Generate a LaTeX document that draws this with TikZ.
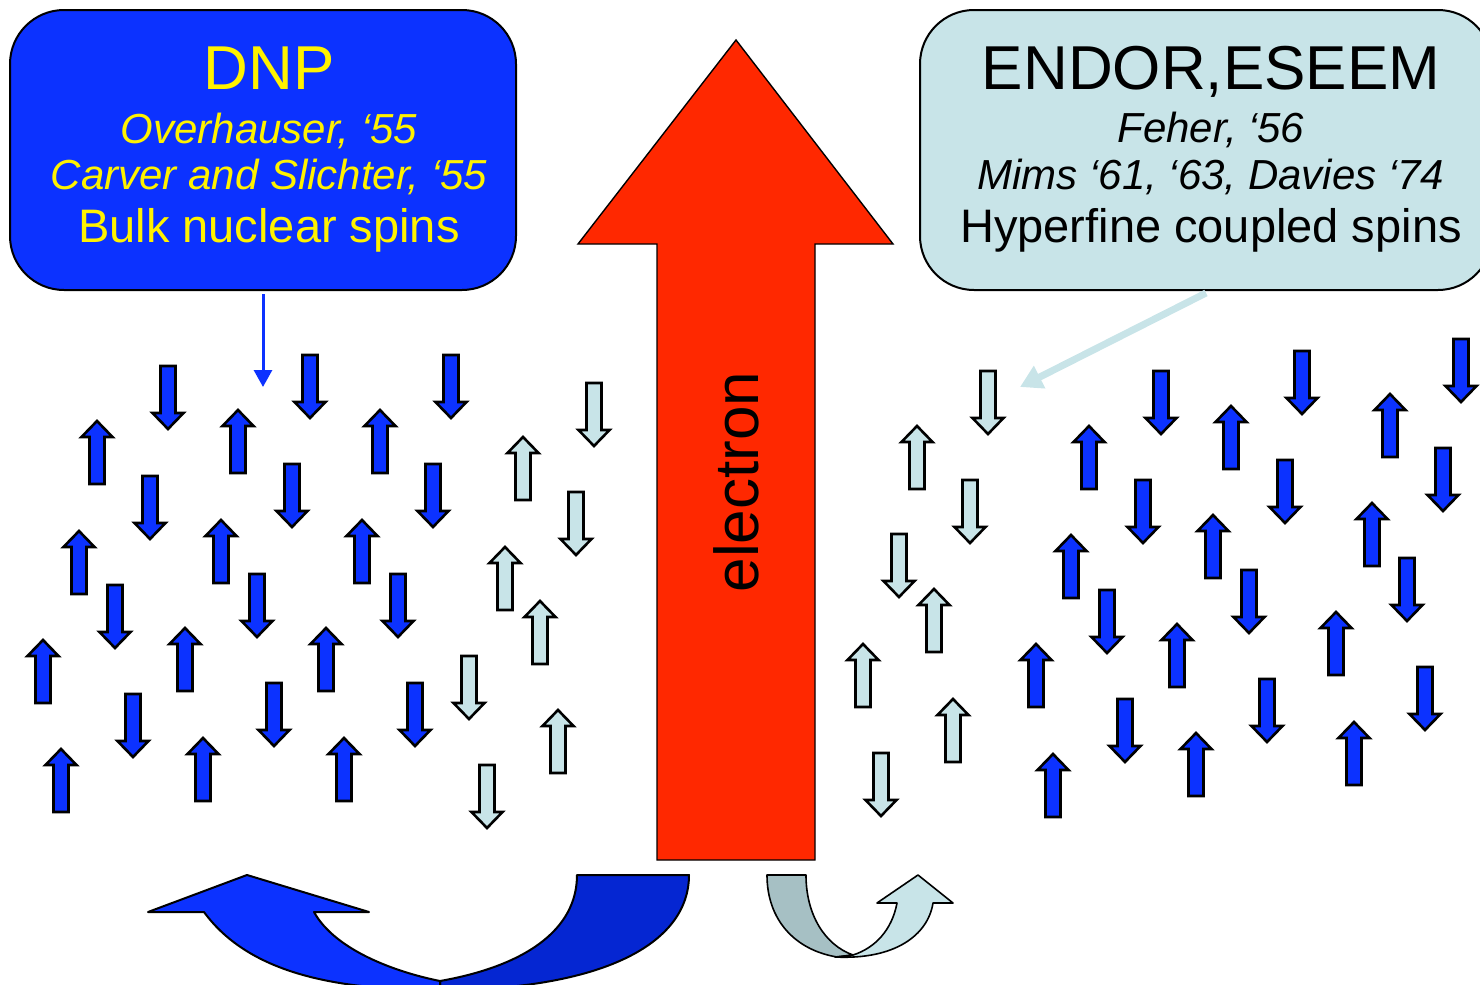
\documentclass[tikz,border=0pt]{standalone}
\usepackage{fontspec}
\setmainfont{Liberation Sans}
\usetikzlibrary{arrows.meta}

\definecolor{spinblue}{RGB}{12,50,255}
\definecolor{spincyan}{RGB}{200,228,232}
\definecolor{backblue}{RGB}{5,38,210}
\definecolor{backgray}{RGB}{166,192,196}
\definecolor{electronred}{RGB}{255,40,0}

% block arrows for the spins, #2 = top end
\newcommand{\spinup}[3]{%
  \draw[spin,fill=#3] (#1,#2) -- ++(15.5,16) -- ++(-8,0) -- ++(0,47)
    -- ++(-15,0) -- ++(0,-47) -- ++(-8,0) -- cycle;}
\newcommand{\spindown}[3]{%
  \draw[spin,fill=#3] ({#1},{#2+63}) -- ++(15.5,-16) -- ++(-8,0) -- ++(0,-47)
    -- ++(-15,0) -- ++(0,47) -- ++(-8,0) -- cycle;}

\begin{document}
\begin{tikzpicture}[
    x=0.5pt, y=-0.5pt,
    spin/.style = {
      draw = black,
      line width = 1.3pt
    },
    infobox/.style = {
      draw = black,
      line width = 1pt,
      rounded corners = 27pt,
      inner sep = 0pt
    },
    title/.style = {anchor=base, font=\fontsize{31}{36}\selectfont},
    ref/.style = {anchor=base, font=\fontsize{21}{25}\selectfont\itshape},
    what/.style = {anchor=base, font=\fontsize{23.5}{28}\selectfont},
    curl/.style = {draw=black, line width=1pt, line join=round}
  ]
\clip (0,0) rectangle (1480,985);

% electron
\draw[fill=electronred, line width=0.7pt] (736,40) -- (893,244) -- (815,244) -- (815,860)
  -- (657,860) -- (657,244) -- (578,244) -- cycle;
\node[rotate=90, anchor=base, font=\fontsize{31}{36}\selectfont] (electron) at (758,482) {electron};

% boxes
\node[infobox, fill=spinblue, minimum width=253pt, minimum height=140pt] (dnp) at (263,150) {};
\node[infobox, fill=spincyan, minimum width=286pt, minimum height=140pt] (endor) at (1206,150) {};

\node[title, text=yellow] (dnptitle) at (269,90) {DNP};
\node[ref, text=yellow]   (dnpref1)  at (269,143) {Overhauser, ‘55};
\node[ref, text=yellow]   (dnpref2)  at (269,189) {Carver and Slichter, ‘55};
\node[what, text=yellow]  (dnpspins) at (269,242) {Bulk nuclear spins};

\node[title] (endortitle) at (1211,90) {ENDOR,ESEEM};
\node[ref]   (endorref1)  at (1211,142) {Feher, ‘56};
\node[ref]   (endorref2)  at (1211,189) {Mims ‘61, ‘63, Davies ‘74};
\node[what]  (endorspins) at (1211,242) {Hyperfine coupled spins};

% pointers
\coordinate (dnptarget) at (263,387);
\coordinate (endortarget) at (1020,387);
\draw[spinblue, line width=1.5pt, -{Triangle[length=8.5pt,width=9pt]}] ([yshift=-1.5pt]dnp.south) -- (dnptarget);
\draw[spincyan, line width=3.5pt, -{Triangle[length=11pt,width=12pt]}] ([yshift=-1pt]endor.south) -- (endortarget);

% spins
\foreach \x/\y in {97/421, 238/410, 380/410, 79/531, 221/520, 362/520,
                   43/640, 185/628, 326/628, 61/749, 203/738, 344/738}
  \spinup{\x}{\y}{spinblue};
\foreach \x/\y in {168/366, 310/355, 451/355, 150/476, 292/464, 433/464,
                   115/585, 257/574, 398/574, 133/694, 274/683, 415/683}
  \spindown{\x}{\y}{spinblue};
\foreach \x/\y in {523/437, 505/547, 540/601, 558/710,
                   917/426, 934/589, 863/644, 953/699}
  \spinup{\x}{\y}{spincyan};
\foreach \x/\y in {594/383, 576/492, 469/656, 487/765,
                   988/371, 970/480, 899/534, 881/753}
  \spindown{\x}{\y}{spincyan};
\foreach \x/\y in {1089/426, 1231/406, 1390/394, 1213/515, 1372/503, 1071/535,
                   1336/612, 1177/624, 1036/644, 1196/733, 1354/722, 1053/754}
  \spinup{\x}{\y}{spinblue};
\foreach \x/\y in {1161/371, 1302/351, 1461/339, 1143/480, 1285/460, 1443/448,
                   1249/570, 1407/558, 1107/590, 1267/679, 1425/667, 1125/699}
  \spindown{\x}{\y}{spinblue};

% curled arrows
\draw[curl, fill=backblue] (577,875) -- (689,875) .. controls (689,945) and (600,990) .. (440,990)
  -- (440,981) .. controls (525,966) and (577,930) .. (577,875) -- cycle;
\draw[curl, fill=spinblue] (204,912) .. controls (250,975) and (340,990) .. (440,990)
  -- (440,981) .. controls (395,972) and (335,950) .. (314,912)
  -- (369,912) -- (247,875) -- (148,912) -- cycle;

\draw[curl, line width=0.8pt, fill=backgray] (767,875) -- (806,875) .. controls (806,915) and (825,945) .. (853,955)
  -- (837,957) .. controls (795,950) and (767,920) .. (767,875) -- cycle;
\draw[curl, line width=0.8pt, fill=spincyan] (835,957) .. controls (895,960) and (928,935) .. (933,903)
  -- (953,903) -- (918,875) -- (877,903) -- (897,903) .. controls (892,930) and (875,948) .. (853,955) -- cycle;

\end{tikzpicture}
\end{document}
